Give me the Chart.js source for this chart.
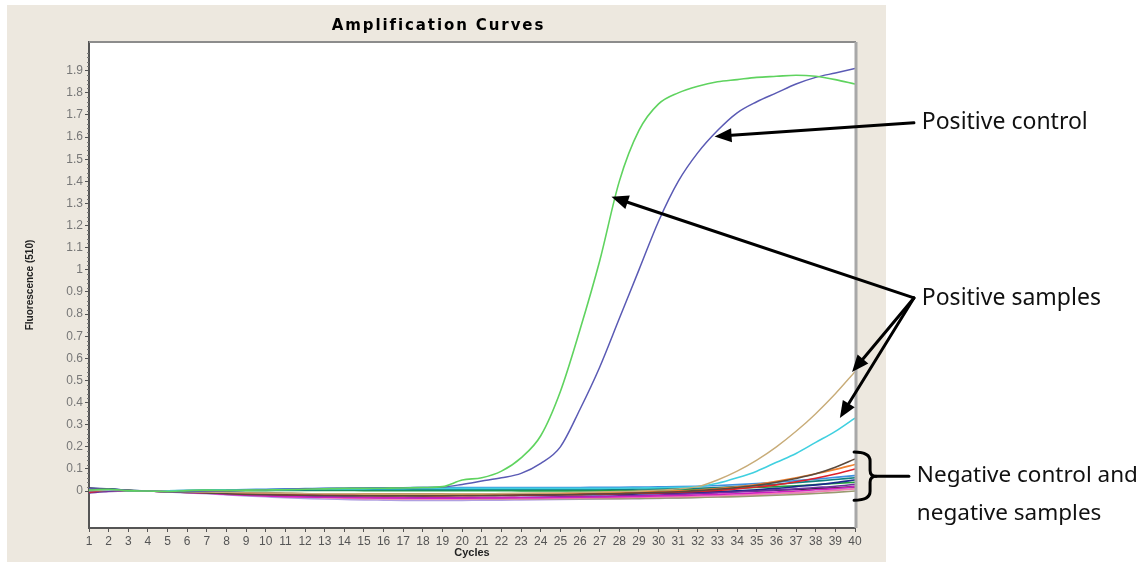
<!DOCTYPE html>
<html>
<head>
<meta charset="utf-8">
<title>Amplification Curves</title>
<script src="https://cdn.jsdelivr.net/npm/chart.js@4.4.1/dist/chart.umd.min.js"></script>
<style>
  html, body { margin: 0; padding: 0; background: #fff; }
  .wrap { position: relative; width: 1146px; height: 563px; }
</style>
</head>
<body>
<div class="wrap"><canvas id="ampChart" width="1146" height="563"></canvas></div>
<script>
const cycles = [1,2,3,4,5,6,7,8,9,10,11,12,13,14,15,16,17,18,19,20,21,22,23,24,25,26,27,28,29,30,31,32,33,34,35,36,37,38,39,40];
const yTickValues = [0,0.1,0.2,0.3,0.4,0.5,0.6,0.7,0.8,0.9,1,1.1,1.2,1.3,1.4,1.5,1.6,1.7,1.8,1.9];
const yTickLabels = ['0','0.1','0.2','0.3','0.4','0.5','0.6','0.7','0.8','0.9','1','1.1','1.2','1.3','1.4','1.5','1.6','1.7','1.8','1.9'];

// positive samples
const greenSample = [0.005,0.008,0.002,0,-0.002,0.002,0.004,0.003,0.004,0.005,0.006,0.008,0.01,0.012,0.012,0.013,0.014,0.016,0.02,0.05,0.06,0.09,0.15,0.25,0.45,0.73,1.04,1.4,1.63,1.75,1.8,1.83,1.85,1.86,1.87,1.875,1.88,1.875,1.86,1.84];
const tanSample = [0.004,0.006,0.002,0,-0.002,-0.003,-0.005,-0.006,-0.008,-0.009,-0.01,-0.011,-0.012,-0.012,-0.013,-0.013,-0.013,-0.013,-0.013,-0.012,-0.012,-0.011,-0.01,-0.009,-0.008,-0.006,-0.004,-0.002,0.0,0.004,0.01,0.02,0.05,0.09,0.14,0.2,0.27,0.35,0.44,0.54];
const cyanSample = [0.002,0.004,0.001,0,0.001,0.002,0.003,0.004,0.005,0.006,0.007,0.008,0.009,0.01,0.01,0.011,0.011,0.012,0.012,0.012,0.012,0.012,0.012,0.012,0.012,0.012,0.012,0.013,0.014,0.015,0.017,0.02,0.035,0.06,0.09,0.13,0.17,0.22,0.27,0.33];
// positive control
const blueControl = [0.01,0.008,0.003,0,-0.003,-0.002,0,0.002,0.004,0.006,0.008,0.01,0.012,0.013,0.014,0.014,0.015,0.016,0.018,0.03,0.045,0.06,0.08,0.125,0.2,0.37,0.56,0.78,1.0,1.22,1.4,1.53,1.63,1.71,1.76,1.8,1.84,1.87,1.89,1.91];

// negative control and negative samples
const negA = [0.012,0.008,0.002,0,-0.003,-0.006,-0.008,-0.012,-0.015,-0.017,-0.018,-0.019,-0.02,-0.021,-0.021,-0.022,-0.022,-0.022,-0.021,-0.02,-0.02,-0.019,-0.018,-0.017,-0.016,-0.015,-0.013,-0.011,-0.009,-0.006,-0.003,0.002,0.008,0.016,0.026,0.04,0.057,0.078,0.108,0.145];
const negB = [-0.005,0.004,0.001,0,-0.002,-0.004,-0.007,-0.01,-0.012,-0.014,-0.016,-0.017,-0.018,-0.019,-0.02,-0.021,-0.021,-0.022,-0.022,-0.021,-0.02,-0.02,-0.019,-0.018,-0.017,-0.016,-0.014,-0.012,-0.01,-0.008,-0.005,-0.002,0.003,0.01,0.018,0.028,0.042,0.058,0.077,0.1];
const negC = [0.003,0.006,0.002,0,-0.001,-0.003,-0.005,-0.007,-0.009,-0.01,-0.011,-0.012,-0.013,-0.013,-0.014,-0.014,-0.015,-0.015,-0.015,-0.015,-0.014,-0.014,-0.013,-0.012,-0.011,-0.01,-0.008,-0.006,-0.004,-0.002,0.001,0.005,0.011,0.019,0.03,0.044,0.06,0.078,0.098,0.12];
const negD = [0.008,0.005,0.001,0,-0.003,-0.006,-0.01,-0.015,-0.019,-0.022,-0.025,-0.027,-0.028,-0.029,-0.03,-0.031,-0.031,-0.032,-0.032,-0.032,-0.031,-0.031,-0.03,-0.03,-0.029,-0.028,-0.027,-0.026,-0.024,-0.022,-0.02,-0.018,-0.015,-0.012,-0.008,-0.004,0.0,0.006,0.012,0.02];
const negE = [-0.008,-0.002,0.0,0,-0.002,-0.005,-0.008,-0.012,-0.016,-0.019,-0.022,-0.024,-0.026,-0.027,-0.028,-0.029,-0.03,-0.03,-0.03,-0.03,-0.029,-0.029,-0.028,-0.027,-0.026,-0.025,-0.024,-0.022,-0.02,-0.018,-0.015,-0.012,-0.008,-0.004,0.0,0.005,0.01,0.016,0.022,0.03];
const negF = [0.014,0.01,0.003,0,-0.001,-0.002,-0.004,-0.006,-0.008,-0.01,-0.012,-0.013,-0.015,-0.016,-0.017,-0.018,-0.019,-0.02,-0.02,-0.02,-0.02,-0.02,-0.019,-0.019,-0.018,-0.017,-0.016,-0.015,-0.013,-0.011,-0.009,-0.006,-0.003,0.001,0.006,0.012,0.02,0.028,0.038,0.05];
const negG = [0.006,0.009,0.003,0,0.001,0.002,0.003,0.003,0.004,0.004,0.005,0.005,0.006,0.006,0.006,0.006,0.006,0.006,0.006,0.007,0.007,0.007,0.007,0.007,0.007,0.007,0.008,0.008,0.009,0.01,0.011,0.013,0.016,0.02,0.025,0.031,0.038,0.045,0.052,0.06];
const negH = [-0.006,0.0,0.001,0,0.0,0.001,0.001,0.002,0.002,0.002,0.003,0.003,0.003,0.003,0.002,0.002,0.002,0.002,0.002,0.002,0.002,0.002,0.001,0.001,0.001,0.001,0.001,0.002,0.003,0.004,0.006,0.008,0.01,0.013,0.016,0.02,0.024,0.029,0.034,0.04];
const negI = [0.002,0.004,0.001,0,-0.003,-0.006,-0.009,-0.013,-0.017,-0.021,-0.024,-0.027,-0.03,-0.032,-0.034,-0.035,-0.036,-0.036,-0.036,-0.036,-0.035,-0.035,-0.034,-0.033,-0.032,-0.031,-0.03,-0.029,-0.028,-0.027,-0.025,-0.023,-0.021,-0.018,-0.015,-0.011,-0.007,-0.003,0.003,0.01];
const negJ = [0.01,0.006,0.002,0,0.001,0.002,0.004,0.005,0.007,0.008,0.01,0.011,0.012,0.013,0.014,0.015,0.015,0.016,0.016,0.016,0.016,0.016,0.016,0.016,0.016,0.016,0.017,0.017,0.018,0.019,0.02,0.022,0.025,0.029,0.034,0.04,0.047,0.054,0.062,0.07];
const negK = [0.004,0.003,0.001,0,-0.002,-0.004,-0.006,-0.009,-0.012,-0.015,-0.018,-0.021,-0.023,-0.025,-0.027,-0.028,-0.03,-0.031,-0.032,-0.033,-0.034,-0.034,-0.035,-0.035,-0.035,-0.035,-0.034,-0.034,-0.033,-0.032,-0.031,-0.029,-0.027,-0.025,-0.022,-0.019,-0.015,-0.011,-0.006,0.0];
const negL = [-0.002,0.002,0.001,0,-0.001,-0.003,-0.005,-0.007,-0.009,-0.01,-0.011,-0.012,-0.012,-0.013,-0.013,-0.014,-0.014,-0.014,-0.014,-0.014,-0.014,-0.014,-0.013,-0.013,-0.013,-0.012,-0.012,-0.011,-0.01,-0.009,-0.008,-0.006,-0.004,-0.002,0.001,0.004,0.007,0.011,0.015,0.02];
const negM = [0.0,0.002,0.0,0,-0.004,-0.008,-0.012,-0.017,-0.022,-0.026,-0.03,-0.033,-0.036,-0.038,-0.04,-0.041,-0.042,-0.042,-0.042,-0.042,-0.041,-0.041,-0.04,-0.039,-0.038,-0.037,-0.036,-0.035,-0.034,-0.033,-0.031,-0.029,-0.026,-0.023,-0.019,-0.014,-0.009,-0.003,0.006,0.015];

const negativeSeries = [negA, negB, negC, negD, negE, negF, negG, negH, negI, negJ, negK, negL, negM];
const negativeColors = ['#5b4a3c', '#e0202a', '#f08030', '#d020c0', '#7030a0', '#1a2a8a', '#108080', '#20a040', '#f080b0', '#4090e0', '#9a9a70', '#202020', '#b0a0e0'];

// callouts, in chart units (cycle, fluorescence)
const callouts = [
  { text: 'Positive control', textAt: [43.4, 1.665], arrows: [[[43.0, 1.665], [32.85, 1.603]]] },
  { text: 'Positive samples', textAt: [43.4, 0.869], arrows: [
    [[43.0, 0.873], [27.6, 1.33]],
    [[43.0, 0.873], [39.85, 0.538]],
    [[43.0, 0.873], [39.23, 0.33]],
  ] },
];
const negativeNote = { lines: ['Negative control and', 'negative samples'], textAt: [43.15, 0.068], lineGap: -0.172, braceX: 40.36, braceTop: 0.176, braceBottom: -0.041 };

function startAmplificationChart() {
  const canvas = document.getElementById('ampChart');
  if (!canvas || !window.Chart) return;

  const toPoints = (vals) => vals.map((v, i) => ({ x: cycles[i], y: v }));

  const lineStyle = (color, width) => ({
    parsing: false,
    borderColor: color,
    borderWidth: width,
    pointRadius: 0,
    tension: 0.3,
    cubicInterpolationMode: 'monotone',
    fill: false,
  });

  const datasets = [
    { label: 'Positive sample 1', data: toPoints(greenSample), ...lineStyle('#5fd35f', 1.6) },
    { label: 'Positive control', data: toPoints(blueControl), ...lineStyle('#5a5ab4', 1.5) },
    { label: 'Positive sample 2', data: toPoints(tanSample), ...lineStyle('#c8ac78', 1.4) },
    { label: 'Positive sample 3', data: toPoints(cyanSample), ...lineStyle('#40d0e0', 1.6) },
  ];
  negativeSeries.forEach((vals, i) => {
    datasets.push({ label: `Negative ${i + 1}`, data: toPoints(vals), ...lineStyle(negativeColors[i], 1.6) });
  });

  const framePlugin = {
    id: 'framePlugin',
    beforeDraw(chart) {
      const { ctx, chartArea: a } = chart;
      ctx.save();
      ctx.fillStyle = '#ffffff';
      ctx.fillRect(0, 0, chart.width, chart.height);
      ctx.fillStyle = '#ede8df';
      ctx.fillRect(7, 5, a.right + 31 - 7, 557);
      ctx.fillStyle = '#ffffff';
      ctx.fillRect(a.left, a.top, a.right - a.left, a.bottom - a.top);
      ctx.restore();
    },
    afterDraw(chart) {
      const { ctx, chartArea: a, scales } = chart;
      ctx.save();
      // top and right border of the plot
      ctx.strokeStyle = '#8c8c8c';
      ctx.lineWidth = 2;
      ctx.beginPath();
      ctx.moveTo(a.left, a.top);
      ctx.lineTo(a.right + 1, a.top);
      ctx.stroke();
      ctx.strokeStyle = '#a8a8a8';
      ctx.lineWidth = 3;
      ctx.beginPath();
      ctx.moveTo(a.right + 1, a.top);
      ctx.lineTo(a.right + 1, a.bottom);
      ctx.stroke();

      // minor ticks on the y axis
      ctx.strokeStyle = '#777';
      ctx.lineWidth = 1;
      for (let i = 0; i < yTickValues.length; i++) {
        for (let k = 1; k < 5; k++) {
          const y = Math.round(scales.y.getPixelForValue(yTickValues[i] + k * 0.02)) + 0.5;
          if (y < a.top + 2) continue;
          ctx.beginPath();
          ctx.moveTo(a.left - 2, y);
          ctx.lineTo(a.left, y);
          ctx.stroke();
        }
      }

      // title
      ctx.fillStyle = '#000';
      ctx.font = 'bold 15px "DejaVu Sans", Arial, sans-serif';
      ctx.textAlign = 'center';
      ctx.textBaseline = 'middle';
      ctx.letterSpacing = '1.9px';
      ctx.fillText('Amplification Curves', (7 + a.right + 31) / 2 - 8, 26);
      ctx.restore();

      drawCallouts(chart);
    },
  };

  const drawArrow = (ctx, x1, y1, x2, y2) => {
    const ang = Math.atan2(y2 - y1, x2 - x1);
    const headLen = 17;
    const headW = 7;
    const bx = x2 - headLen * Math.cos(ang);
    const by = y2 - headLen * Math.sin(ang);
    ctx.beginPath();
    ctx.moveTo(x1, y1);
    ctx.lineTo(bx, by);
    ctx.stroke();
    ctx.beginPath();
    ctx.moveTo(x2, y2);
    ctx.lineTo(bx + headW * Math.sin(ang), by - headW * Math.cos(ang));
    ctx.lineTo(bx - headW * Math.sin(ang), by + headW * Math.cos(ang));
    ctx.closePath();
    ctx.fill();
  };

  const drawCallouts = (chart) => {
    const { ctx, scales } = chart;
    const px = (v) => scales.x.getPixelForValue(v);
    const py = (v) => scales.y.getPixelForValue(v);
    ctx.save();
    ctx.strokeStyle = '#000';
    ctx.fillStyle = '#000';
    ctx.lineWidth = 3;
    ctx.lineCap = 'round';
    ctx.lineJoin = 'round';
    ctx.font = '23px "Noto Sans", "Open Sans", sans-serif';
    ctx.textBaseline = 'middle';
    ctx.textAlign = 'left';

    callouts.forEach((c) => {
      c.arrows.forEach(([from, to]) => drawArrow(ctx, px(from[0]), py(from[1]), px(to[0]), py(to[1])));
      ctx.fillStyle = '#111';
      ctx.fillText(c.text, px(c.textAt[0]), py(c.textAt[1]));
      ctx.fillStyle = '#000';
    });

    // curly brace round the negative curves
    const n = negativeNote;
    const bx = px(n.braceX);
    const top = py(n.braceTop);
    const bot = py(n.braceBottom);
    const mid = (top + bot) / 2;
    ctx.beginPath();
    ctx.moveTo(bx - 8, top);
    ctx.quadraticCurveTo(bx + 8, top, bx + 8, top + 9);
    ctx.lineTo(bx + 8, mid - 6);
    ctx.quadraticCurveTo(bx + 8, mid, bx + 14, mid);
    ctx.quadraticCurveTo(bx + 8, mid, bx + 8, mid + 6);
    ctx.lineTo(bx + 8, bot - 9);
    ctx.quadraticCurveTo(bx + 8, bot, bx - 8, bot);
    ctx.stroke();
    ctx.beginPath();
    ctx.moveTo(bx + 14, mid);
    ctx.lineTo(px(n.textAt[0]) - 8, mid);
    ctx.stroke();
    ctx.fillStyle = '#111';
    ctx.font = '22.5px "Noto Sans", "Open Sans", sans-serif';
    n.lines.forEach((line, i) => {
      ctx.fillText(line, px(n.textAt[0]), py(n.textAt[1] + i * n.lineGap));
    });
    ctx.restore();
  };

  new Chart(canvas, {
    type: 'line',
    data: { datasets },
    options: {
      responsive: false,
      animation: false,
      events: [],
      layout: {
        padding: { top: 42, right: 291, bottom: 0, left: 20 },
      },
      scales: {
        x: {
          type: 'linear',
          min: 1,
          max: 40,
          afterBuildTicks: (scale) => { scale.ticks = cycles.map((v) => ({ value: v })); },
          afterFit: (scale) => { scale.height = 35; },
          grid: { display: true, drawOnChartArea: false, drawTicks: true, tickLength: 4, color: '#555' },
          border: { display: true, color: '#555', width: 2 },
          ticks: {
            autoSkip: false,
            maxRotation: 0,
            padding: 2,
            color: '#555',
            font: { family: '"Liberation Sans", Arial, sans-serif', size: 12 },
            callback: (value) => String(value),
          },
          title: {
            display: true,
            text: 'Cycles',
            color: '#222',
            font: { family: '"Liberation Sans", Arial, sans-serif', size: 11, weight: 'bold' },
            padding: { top: 0, bottom: 3 },
          },
        },
        y: {
          type: 'linear',
          min: -0.167,
          max: 2.03,
          afterBuildTicks: (scale) => { scale.ticks = yTickValues.map((v) => ({ value: v })); },
          afterFit: (scale) => { scale.width = 69; },
          grid: { display: true, drawOnChartArea: false, drawTicks: true, tickLength: 4, color: '#555' },
          border: { display: true, color: '#555', width: 2 },
          ticks: {
            padding: 2,
            color: '#777',
            font: { family: '"Liberation Sans", Arial, sans-serif', size: 12 },
            callback: (value, index) => yTickLabels[index],
          },
          title: {
            display: true,
            text: 'Fluorescence (510)',
            color: '#222',
            font: { family: '"Liberation Sans", Arial, sans-serif', size: 10, weight: 'bold' },
            padding: { top: 4, bottom: 4 },
          },
        },
      },
      plugins: {
        legend: { display: false },
        tooltip: { enabled: false },
        title: { display: false },
      },
    },
    plugins: [framePlugin],
  });
}

document.addEventListener('DOMContentLoaded', startAmplificationChart);
</script>
</body>
</html>
